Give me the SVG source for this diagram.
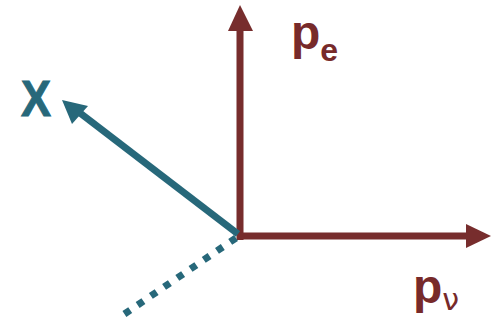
<svg xmlns="http://www.w3.org/2000/svg" width="499" height="322" viewBox="0 0 499 322">
<defs>
<style>
.lbl{font-family:"Liberation Sans",Arial,sans-serif;font-weight:bold}
.mar{fill:#772a2a}
.tea{fill:#27687a}
</style>
</defs>
<rect width="499" height="322" fill="#ffffff"/>
<g id="connectors">
<line x1="240" y1="240" x2="240" y2="28" stroke="#772d2d" stroke-width="7"/>
<polygon points="240,5 228,31 253,31" fill="#772d2d"/>
<line x1="237" y1="236" x2="468" y2="236" stroke="#772d2d" stroke-width="7"/>
<polygon points="491,236 466,224 466,248" fill="#772d2d"/>
<line x1="238" y1="234" x2="80" y2="113" stroke="#27687a" stroke-width="7"/>
<polygon points="62,100 72,124 88,106" fill="#27687a"/>
<line x1="236" y1="238" x2="120" y2="317" stroke="#27687a" stroke-width="7" stroke-dasharray="7 9"/>
</g>
<g id="label-X">
<text class="lbl tea" x="21" y="116" font-size="50" textLength="30" lengthAdjust="spacingAndGlyphs" stroke="#27687a" stroke-width="1">X</text>
</g>
<g id="label-pe">
<text class="lbl mar" x="291" y="49" font-size="48">p<tspan font-size="32" dy="12">e</tspan></text>
</g>
<g id="label-pnu">
<text class="lbl mar" x="413" y="303" font-size="48">p<tspan font-size="30" dy="7" font-family="'DejaVu Sans',sans-serif" font-weight="normal">ν</tspan></text>
</g>
</svg>
